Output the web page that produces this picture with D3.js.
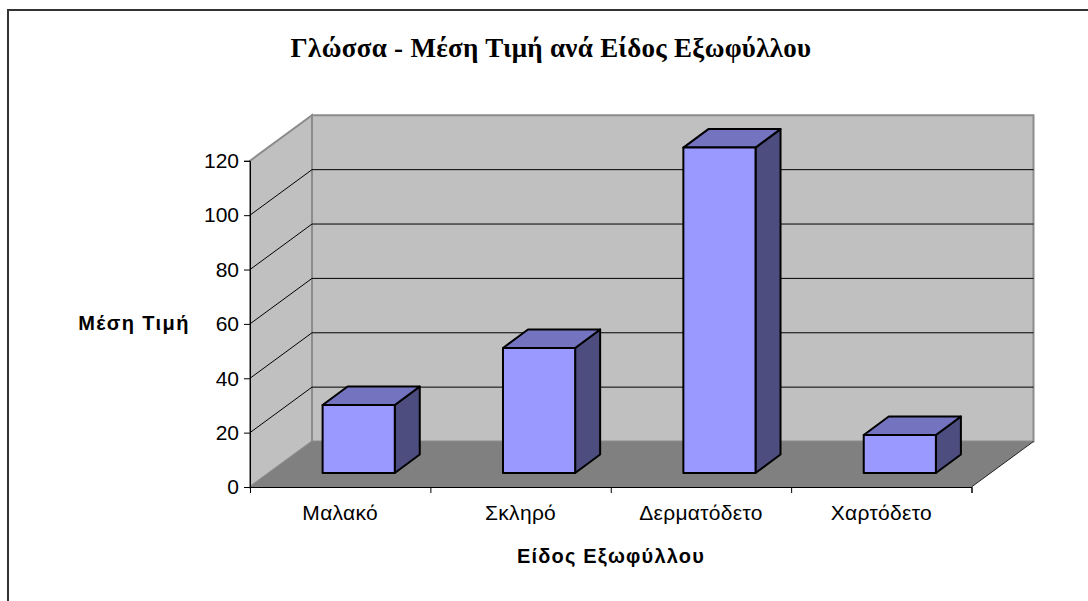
<!DOCTYPE html>
<html>
<head>
<meta charset="utf-8">
<script src="https://cdn.jsdelivr.net/npm/d3@7"></script>
<style>
  html, body { margin: 0; padding: 0; background: #fff; overflow: hidden; }
  svg { display: block; }
</style>
</head>
<body>
<div id="chart"></div>
<script>
// Data
const categories = ['Μαλακό', 'Σκληρό', 'Δερματόδετο', 'Χαρτόδετο']
const values = [25, 46, 119.7, 14]
const yTicks = [0, 20, 40, 60, 80, 100, 120]

const width = 1088
const height = 601

// front edge of the plot, and how far the 3D box goes back
const plot = { left: 250, right: 971.5, top: 160.8, bottom: 487 }
const depth = { x: 62, y: -45.5 }

const yScale = d3.scaleLinear().domain([0, 120]).range([plot.bottom, plot.top])
const xScale = d3.scaleBand().domain(categories).range([plot.left, plot.right])
const xEdges = d3.scaleLinear().domain([0, categories.length]).range([plot.left, plot.right])

const svg = d3.select('#chart')
  .append('svg')
  .attr('width', width)
  .attr('height', height)

// outer frame, only the top and left edges are in the picture
svg.append('path')
  .attr('d', `M8,${height + 5}V10H${width + 5}`)
  .attr('fill', 'none')
  .attr('stroke', '#333')
  .attr('stroke-width', 2)

const poly = (pts) => 'M' + pts.map(p => p.join(',')).join('L') + 'Z'

// back wall
svg.append('path')
  .attr('d', poly([
    [plot.left + depth.x, plot.top + depth.y],
    [plot.right + depth.x, plot.top + depth.y],
    [plot.right + depth.x, plot.bottom + depth.y],
    [plot.left + depth.x, plot.bottom + depth.y]
  ]))
  .attr('fill', '#c0c0c0')
  .attr('stroke', '#8c8c8c')
  .attr('stroke-width', 2)

// side wall
svg.append('path')
  .attr('d', poly([
    [plot.left, plot.top],
    [plot.left + depth.x, plot.top + depth.y],
    [plot.left + depth.x, plot.bottom + depth.y],
    [plot.left, plot.bottom]
  ]))
  .attr('fill', '#c0c0c0')
  .attr('stroke', '#8c8c8c')
  .attr('stroke-width', 2)

// floor
svg.append('path')
  .attr('d', poly([
    [plot.left, plot.bottom],
    [plot.left + depth.x, plot.bottom + depth.y],
    [plot.right + depth.x, plot.bottom + depth.y],
    [plot.right, plot.bottom]
  ]))
  .attr('fill', '#808080')

// right edge of the floor
svg.append('line')
  .attr('x1', plot.right).attr('y1', plot.bottom)
  .attr('x2', plot.right + depth.x).attr('y2', plot.bottom + depth.y)
  .attr('stroke', '#000')
  .attr('stroke-width', 0.8)

// gridlines, along the side wall then across the back
svg.selectAll('path.grid')
  .data(yTicks.filter(d => d > 0 && d < 120))
  .enter()
  .append('path')
  .attr('class', 'grid')
  .attr('d', d => `M${plot.left},${yScale(d)}L${plot.left + depth.x},${yScale(d) + depth.y}H${plot.right + depth.x}`)
  .attr('fill', 'none')
  .attr('stroke', '#000')
  .attr('stroke-width', 1)

// bars
const barW = xScale.bandwidth() * 0.4
const barShift = { x: 18.5, y: -14 }
const barDepth = { x: 25, y: -18.5 }

const bars = svg.selectAll('g.bar')
  .data(categories.map((c, i) => ({ c, v: values[i] })))
  .enter()
  .append('g')
  .attr('class', 'bar')
  .attr('stroke', '#000')
  .attr('stroke-width', 2)
  .attr('stroke-linejoin', 'round')

const barX = d => xScale(d.c) + (xScale.bandwidth() - barW) / 2 + barShift.x
const barBase = yScale(0) + barShift.y
const barTop = d => barBase - (yScale(0) - yScale(d.v))

bars.append('path')
  .attr('fill', '#4d4d80')
  .attr('d', d => poly([
    [barX(d) + barW, barTop(d)],
    [barX(d) + barW + barDepth.x, barTop(d) + barDepth.y],
    [barX(d) + barW + barDepth.x, barBase + barDepth.y],
    [barX(d) + barW, barBase]
  ]))

bars.append('path')
  .attr('fill', '#7373bf')
  .attr('d', d => poly([
    [barX(d), barTop(d)],
    [barX(d) + barDepth.x, barTop(d) + barDepth.y],
    [barX(d) + barW + barDepth.x, barTop(d) + barDepth.y],
    [barX(d) + barW, barTop(d)]
  ]))

bars.append('rect')
  .attr('fill', '#9999ff')
  .attr('x', barX)
  .attr('y', barTop)
  .attr('width', barW)
  .attr('height', d => barBase - barTop(d))

// axes
const yAxis = d3.axisLeft(yScale).tickValues(yTicks).tickSize(6).tickPadding(5)
const gy = svg.append('g')
  .attr('transform', `translate(${plot.left},0)`)
  .call(yAxis)
gy.selectAll('text')
  .attr('font-family', 'Liberation Sans')
  .attr('font-size', 21)
  .attr('fill', '#000')

svg.append('g')
  .attr('transform', `translate(0,${plot.bottom})`)
  .call(d3.axisBottom(xEdges).ticks(categories.length).tickFormat('').tickSize(6))

const gx = svg.append('g')
  .attr('transform', `translate(0,${plot.bottom})`)
  .call(d3.axisBottom(xScale).tickSize(0).tickPadding(18))
gx.select('.domain').remove()
gx.selectAll('text')
  .attr('font-family', 'Liberation Sans')
  .attr('font-size', 21)
  .attr('letter-spacing', 0.3)
  .attr('fill', '#000')

// titles
svg.append('text')
  .text('Γλώσσα - Μέση Τιμή ανά Είδος Εξωφύλλου')
  .attr('x', 551)
  .attr('y', 57)
  .attr('text-anchor', 'middle')
  .attr('font-family', 'Liberation Serif')
  .attr('font-weight', 'bold')
  .attr('font-size', 27)
  .attr('letter-spacing', 0.3)

svg.append('text')
  .text('Μέση Τιμή')
  .attr('x', 134)
  .attr('y', 330)
  .attr('text-anchor', 'middle')
  .attr('font-family', 'Liberation Sans')
  .attr('font-weight', 'bold')
  .attr('font-size', 20)
  .attr('letter-spacing', 1.4)

svg.append('text')
  .text('Είδος Εξωφύλλου')
  .attr('x', 611)
  .attr('y', 563)
  .attr('text-anchor', 'middle')
  .attr('font-family', 'Liberation Sans')
  .attr('font-weight', 'bold')
  .attr('font-size', 20)
  .attr('letter-spacing', 1.2)
</script>
</body>
</html>
